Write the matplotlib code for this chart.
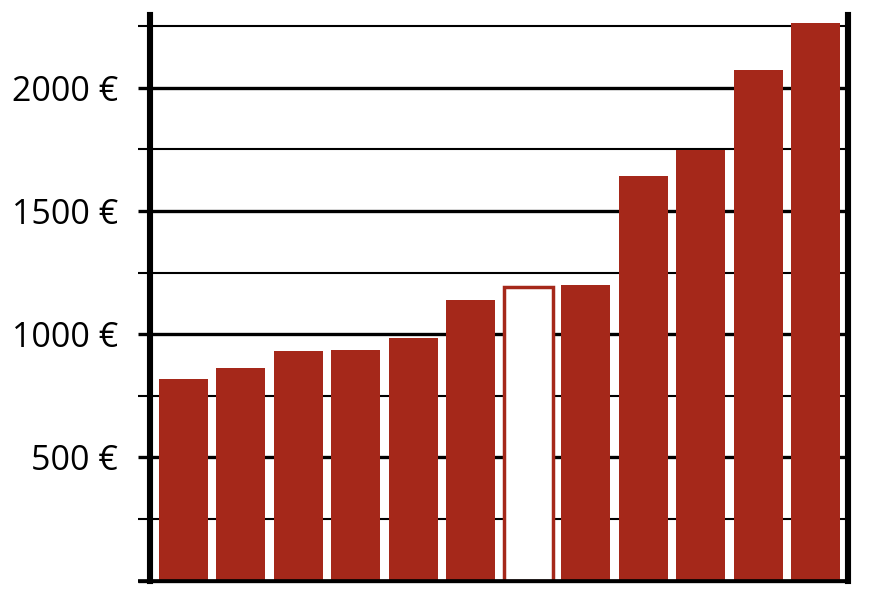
import numpy as np
import matplotlib
matplotlib.use("Agg")
import matplotlib.pyplot as plt
from matplotlib.ticker import MultipleLocator, FuncFormatter

plt.rcParams['font.family'] = ['Open Sans', 'DejaVu Sans']

# values (euro)
values = [819, 864, 934, 938, 983, 1141, 1190, 1200, 1642, 1747, 2071, 2263]
highlight = 6  # the hollow bar
bar_color = "#A5281A"

fig = plt.figure(figsize=(8.72, 6.08), dpi=100)
ax = fig.add_axes([0.172, 0.045, 0.8005, 0.93])

x = np.arange(len(values))
for i, v in enumerate(values):
    if i == highlight:
        ax.bar(i, v, width=0.85, color="white", edgecolor=bar_color,
               linewidth=2.5, zorder=3)
    else:
        ax.bar(i, v, width=0.85, color=bar_color, linewidth=0, zorder=3)

ax.set_xlim(-0.58, 11.56)
ax.set_ylim(0, 2295)
ax.set_xticks([])

ax.yaxis.set_major_locator(MultipleLocator(500))
ax.yaxis.set_minor_locator(MultipleLocator(250))
ax.yaxis.set_major_formatter(FuncFormatter(lambda v, p: "" if v <= 0 else f"{int(v)} €"))
ax.tick_params(axis="y", which="major", direction="out", length=9, width=2.4,
               labelsize=24.5, pad=14, color="black", right=False)
ax.tick_params(axis="y", which="minor", direction="out", length=9, width=1.5,
               color="black", right=False)

ax.grid(axis="y", which="major", color="black", linewidth=2.4, zorder=1)
ax.grid(axis="y", which="minor", color="black", linewidth=1.5, zorder=1)
ax.set_axisbelow(True)

ax.spines["top"].set_visible(False)
ax.spines["left"].set_linewidth(4.4)
ax.spines["right"].set_linewidth(4.4)
ax.spines["bottom"].set_linewidth(2.4)
for s in ax.spines.values():
    s.set_zorder(4)

# bottom line reaches out past the left spine like the ticks
ax.plot([-0.79, 11.6], [0, 0], color="black", linewidth=2.6, clip_on=False,
        zorder=5, solid_capstyle="butt")

fig.savefig("out.png", dpi=100)
